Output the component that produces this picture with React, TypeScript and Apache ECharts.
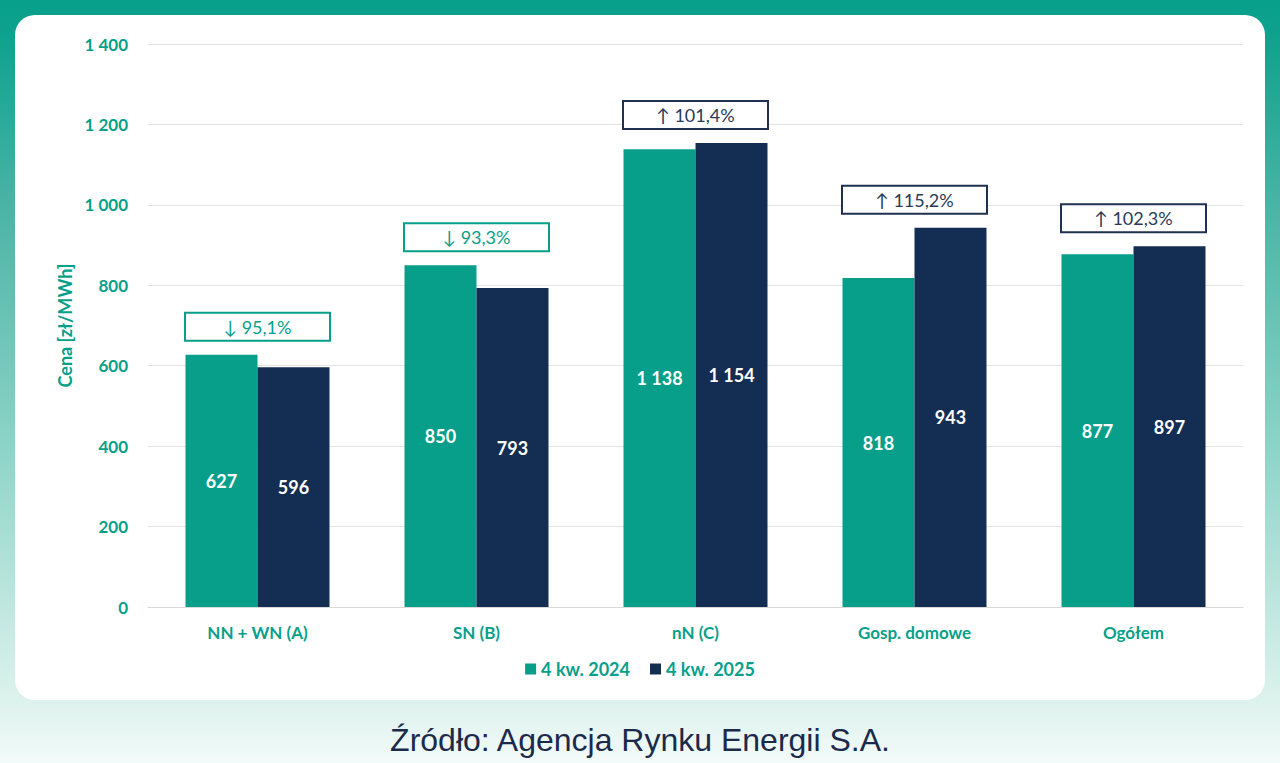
import React, { useEffect, useRef } from "react";
import * as echarts from "echarts";

// Average energy prices by tariff group, Q4 2024 vs Q4 2025
const categories = ["NN + WN (A)", "SN (B)", "nN (C)", "Gosp. domowe", "Ogółem"];
const seriesNames = ["4 kw. 2024", "4 kw. 2025"];
const values2024 = [627, 850, 1138, 818, 877];
const values2025 = [596, 793, 1154, 943, 897];
const changeLabels = ["↓ 95,1%", "↓ 93,3%", "↑ 101,4%", "↑ 115,2%", "↑ 102,3%"];
const changeUp = [false, false, true, true, true];
const sourceText = "Źródło: Agencja Rynku Energii S.A.";

const TEAL = "#079f8a";
const NAVY = "#142d53";
const FONT = "Lato, 'Open Sans', sans-serif";

const fmt = (v: number) => {
  const s = String(Math.round(v));
  return s.replace(/\B(?=(\d{3})+(?!\d))/g, " ");
};

export default function App() {
  const ref = useRef<HTMLDivElement>(null);

  useEffect(() => {
    if (!ref.current) return;
    const chart = echarts.init(ref.current, null, { renderer: "svg" });

    const boxData = categories.map((_, i) => [
      i,
      Math.max(values2024[i], values2025[i]),
      i,
    ]);

    const barLabel = {
      show: true,
      position: "inside",
      color: "#ffffff",
      fontFamily: FONT,
      fontWeight: "bold",
      fontSize: 18,
      formatter: (p: any) => fmt(p.value),
    };

    chart.setOption({
      animation: false,
      backgroundColor: {
        type: "linear",
        x: 0,
        y: 0,
        x2: 0,
        y2: 1,
        colorStops: [
          { offset: 0, color: "#07a08b" },
          { offset: 0.05, color: "#0fa28e" },
          { offset: 0.27, color: "#4ab4a5" },
          { offset: 0.6, color: "#90d5c9" },
          { offset: 0.92, color: "#ddf2ed" },
          { offset: 1, color: "#f3fbf9" },
        ],
      },
      graphic: [
        {
          type: "rect",
          z: -10,
          shape: { x: 15, y: 15, width: 1250, height: 685, r: 20 },
          style: { fill: "#ffffff" },
          silent: true,
        },
        {
          type: "text",
          x: 640,
          y: 740,
          style: {
            text: sourceText,
            fill: "#1b2a4b",
            font: "32px 'Liberation Sans', Arial, sans-serif",
            align: "center",
            verticalAlign: "middle",
          },
        },
      ],
      grid: { left: 148, right: 37, top: 44, bottom: 156 },
      legend: {
        data: seriesNames,
        bottom: 80,
        left: "center",
        icon: "rect",
        itemWidth: 11,
        itemHeight: 11,
        itemGap: 20,
        textStyle: { color: TEAL, fontFamily: FONT, fontWeight: "bold", fontSize: 18 },
      },
      xAxis: {
        type: "category",
        data: categories,
        axisLine: { show: true, lineStyle: { color: "#d9d9d9" } },
        axisTick: { show: false },
        axisLabel: {
          color: TEAL,
          fontFamily: FONT,
          fontWeight: "bold",
          fontSize: 17,
          margin: 17,
        },
      },
      yAxis: {
        type: "value",
        min: 0,
        max: 1400,
        interval: 200,
        name: "Cena [zł/MWh]",
        nameLocation: "middle",
        nameRotate: 90,
        nameGap: 71,
        nameTextStyle: { color: TEAL, fontFamily: FONT, fontWeight: "bold", fontSize: 18 },
        axisLine: { show: false },
        axisTick: { show: false },
        splitLine: { lineStyle: { color: "#e3e3e3", width: 1 } },
        axisLabel: {
          color: TEAL,
          fontFamily: FONT,
          fontWeight: "bold",
          fontSize: 17,
          margin: 20,
          formatter: (v: number) => fmt(v),
        },
      },
      series: [
        {
          name: seriesNames[0],
          type: "bar",
          data: values2024,
          barWidth: 72,
          barGap: "0%",
          itemStyle: { color: TEAL },
          label: barLabel,
        },
        {
          name: seriesNames[1],
          type: "bar",
          data: values2025,
          barWidth: 72,
          barGap: "0%",
          itemStyle: { color: NAVY },
          label: barLabel,
        },
        {
          name: "change",
          type: "custom",
          data: boxData,
          z: 10,
          renderItem: (params: any, api: any) => {
            const idx = api.value(2);
            const pt = api.coord([api.value(0), api.value(1)]);
            const w = 145;
            const h = 28;
            const gap = 14;
            const color = changeUp[idx] ? "#1f3050" : TEAL;
            return {
              type: "group",
              children: [
                {
                  type: "rect",
                  shape: { x: pt[0] - w / 2, y: pt[1] - gap - h, width: w, height: h },
                  style: { fill: "#ffffff", stroke: color, lineWidth: 2 },
                },
                {
                  type: "text",
                  x: pt[0],
                  y: pt[1] - gap - h / 2,
                  style: {
                    text: changeLabels[idx],
                    fill: changeUp[idx] ? "#2a3a58" : TEAL,
                    font: "18px Lato, 'Open Sans', sans-serif",
                    align: "center",
                    verticalAlign: "middle",
                  },
                },
              ],
            };
          },
        },
      ],
    });

    return () => chart.dispose();
  }, []);

  return (
    <div
      ref={ref}
      style={{ position: "absolute", left: 0, top: 0, width: 1280, height: 763 }}
    />
  );
}
